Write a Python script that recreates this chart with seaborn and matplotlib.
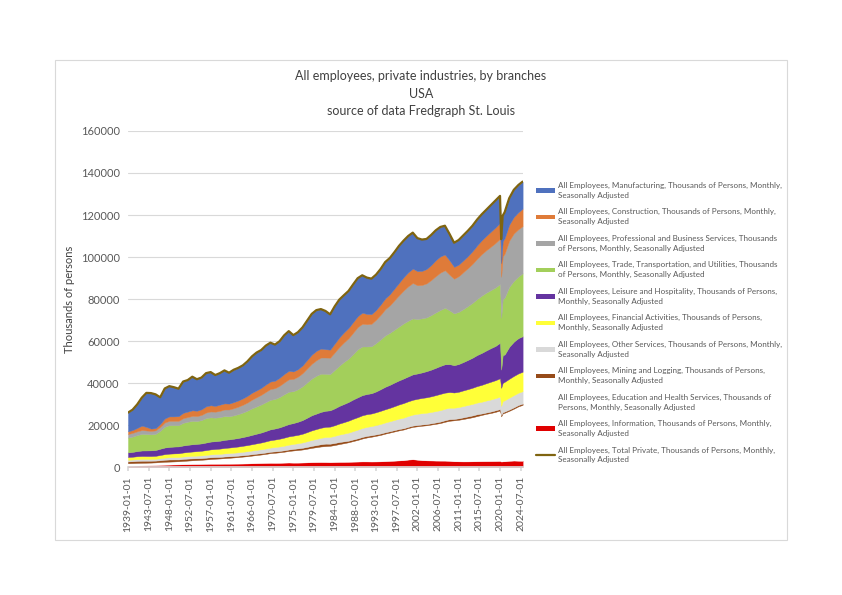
import matplotlib
matplotlib.use("Agg")
import matplotlib.pyplot as plt
from matplotlib.patches import Patch, Rectangle
from matplotlib.lines import Line2D
import pandas as pd
import seaborn as sns

# January of each year, plus two extra points for the 2020 dip and the last month
DATES = ([f"{y}-01-01" for y in range(1939, 2021)] + ["2020-04-01", "2020-08-01"]
         + [f"{y}-01-01" for y in range(2021, 2025)] + ["2024-12-01"])

# thousands of persons
manufacturing = [
    8900, 9700, 11200, 13300, 16200, 16900, 16100, 12700, 14300, 14400,
    13900, 13100, 14900, 15000, 16000, 15000, 15100, 15800, 15800, 14700,
    15000, 15700, 14700, 15400, 15500, 15700, 16400, 17300, 18000, 18000,
    18500, 18500, 17200, 17400, 18400, 18900, 17300, 17600, 18100, 18700,
    19400, 19400, 18800, 18200, 16800, 17700, 18000, 17700, 17600, 17900,
    18100, 17800, 17300, 16900, 16800, 16900, 17300, 17200, 17300, 17600,
    17400, 17300, 17100, 15700, 14900, 14300, 14300, 14200, 14000, 13700,
    12600, 11500, 11700, 11900, 12000, 12100, 12300, 12300, 12400, 12600,
    12800, 12800, 11400, 12200, 12300, 12600, 12900, 12950, 12860]
construction = [
    1300, 1350, 1600, 2100, 1700, 1100, 1050, 1400, 1900, 2100,
    2100, 2200, 2550, 2600, 2650, 2550, 2700, 2950, 2950, 2750,
    2950, 2900, 2800, 2900, 2950, 3050, 3150, 3300, 3250, 3300,
    3500, 3550, 3550, 3800, 4000, 4050, 3550, 3550, 3700, 4050,
    4350, 4450, 4250, 3950, 3850, 4200, 4550, 4750, 4900, 5050,
    5150, 5300, 4900, 4600, 4650, 4900, 5150, 5300, 5600, 5900,
    6300, 6650, 6850, 6750, 6700, 6850, 7150, 7600, 7700, 7500,
    6800, 5650, 5500, 5600, 5750, 6000, 6300, 6600, 6850, 7150,
    7400, 7600, 6500, 7250, 7400, 7600, 7850, 8100, 8300]
prof_business = [
    1700, 1750, 1800, 1800, 1700, 1650, 1650, 1850, 2000, 2050,
    2050, 2050, 2200, 2250, 2350, 2350, 2450, 2650, 2800, 2850,
    3000, 3150, 3250, 3400, 3550, 3700, 3900, 4150, 4400, 4600,
    4900, 5150, 5150, 5350, 5650, 5900, 5850, 6000, 6250, 6650,
    7050, 7400, 7700, 7750, 7800, 8350, 8900, 9300, 9700, 10200,
    10600, 10800, 10600, 10700, 11100, 11700, 12500, 13100, 14000, 14900,
    15700, 16400, 16900, 16100, 15900, 16200, 16700, 17300, 17800, 17900,
    17000, 16500, 17000, 17600, 18100, 18600, 19200, 19800, 20200, 20700,
    21200, 21600, 19500, 20400, 20900, 22000, 22600, 22500, 22500]
trade_transport = [
    7050, 7300, 7620, 7950, 7820, 7620, 7720, 8540, 9920, 10390,
    10220, 10150, 10800, 10990, 11180, 10900, 11120, 11640, 11550, 11210,
    11240, 11330, 10990, 11130, 11380, 11690, 12110, 12640, 12980, 13370,
    13740, 14070, 14060, 14470, 15000, 15410, 15160, 15480, 16090, 16820,
    17450, 18020, 18200, 17630, 17260, 18300, 19150, 20040, 20630, 21600,
    22860, 23180, 22640, 22370, 23070, 23730, 24440, 24760, 25180, 25660,
    26240, 26510, 26640, 25920, 25760, 25600, 25980, 26370, 26670, 26890,
    25620, 24670, 24860, 25210, 25660, 26150, 26670, 27270, 27540, 27630,
    27850, 27940, 24730, 26560, 27130, 28580, 28980, 29360, 29980]
leisure = [
    2200, 2300, 2450, 2600, 2650, 2700, 2750, 3000, 3150, 3200,
    3250, 3250, 3350, 3400, 3450, 3450, 3500, 3600, 3700, 3700,
    3750, 3850, 3900, 3950, 4050, 4150, 4300, 4450, 4600, 4750,
    4950, 5150, 5250, 5400, 5650, 5850, 6000, 6250, 6500, 6850,
    7200, 7350, 7550, 7650, 7750, 8050, 8400, 8650, 8900, 9200,
    9450, 9600, 9600, 9650, 9900, 10300, 10700, 10950, 11250, 11450,
    11700, 11850, 12100, 12050, 12150, 12450, 12700, 13000, 13300, 13500,
    13300, 13000, 13200, 13500, 13900, 14300, 14800, 15200, 15600, 16000,
    16300, 16900, 8700, 13200, 13000, 15200, 16300, 16800, 16900]
financial = [
    1300, 1330, 1380, 1400, 1380, 1370, 1400, 1550, 1650, 1720,
    1780, 1830, 1900, 1980, 2060, 2140, 2210, 2300, 2380, 2440,
    2510, 2590, 2640, 2710, 2770, 2840, 2920, 3010, 3110, 3240,
    3390, 3540, 3600, 3700, 3850, 3950, 3950, 4000, 4150, 4350,
    4550, 4700, 4800, 4850, 4900, 5050, 5250, 5450, 5700, 5850,
    5950, 6050, 6050, 6000, 6100, 6250, 6300, 6400, 6550, 6750,
    6950, 7000, 7050, 7150, 7250, 7350, 7450, 7600, 7750, 7650,
    7450, 7250, 7300, 7450, 7550, 7700, 7850, 8050, 8250, 8450,
    8550, 8750, 8600, 8700, 8800, 9000, 9150, 9200, 9250]
other_services = [
    800, 820, 850, 880, 870, 860, 880, 960, 1030, 1070,
    1100, 1120, 1150, 1180, 1210, 1240, 1270, 1320, 1370, 1400,
    1440, 1490, 1520, 1560, 1600, 1650, 1700, 1750, 1800, 1850,
    1920, 1980, 2050, 2120, 2200, 2300, 2350, 2450, 2550, 2700,
    2850, 2950, 3050, 3150, 3250, 3400, 3550, 3700, 3850, 4000,
    4150, 4250, 4300, 4350, 4450, 4550, 4650, 4750, 4850, 4950,
    5050, 5150, 5250, 5350, 5400, 5400, 5400, 5420, 5450, 5500,
    5450, 5350, 5350, 5400, 5450, 5500, 5550, 5600, 5700, 5750,
    5800, 5900, 4350, 5300, 5350, 5650, 5800, 5850, 5900]
mining = [
    850, 900, 950, 970, 930, 900, 850, 850, 950, 1000,
    950, 850, 950, 950, 900, 850, 800, 840, 850, 800,
    750, 760, 720, 700, 680, 670, 670, 670, 660, 640,
    650, 660, 660, 660, 670, 700, 760, 780, 820, 860,
    930, 980, 1070, 1160, 990, 980, 970, 870, 740, 750,
    740, 750, 750, 710, 680, 670, 660, 640, 650, 650,
    600, 600, 610, 600, 580, 580, 600, 650, 690, 730,
    760, 640, 690, 770, 810, 840, 870, 680, 640, 690,
    740, 700, 620, 590, 590, 620, 640, 640, 630]
education_health = [
    1200, 1200, 1250, 1250, 1250, 1250, 1300, 1350, 1400, 1420,
    1450, 1500, 1600, 1700, 1800, 1900, 2000, 2100, 2250, 2400,
    2500, 2650, 2800, 2950, 3100, 3300, 3450, 3650, 3850, 4050,
    4300, 4600, 4800, 5000, 5200, 5500, 5800, 6000, 6200, 6500,
    6800, 7100, 7400, 7600, 7800, 8100, 8500, 8900, 9300, 9800,
    10300, 10900, 11400, 11800, 12200, 12600, 13100, 13500, 13900, 14300,
    14600, 15000, 15400, 15900, 16400, 16700, 17100, 17500, 17900, 18500,
    19100, 19500, 19800, 20200, 20600, 21000, 21500, 22000, 22500, 22900,
    23400, 24000, 21500, 22800, 23100, 23800, 24700, 25900, 26600]
information = [
    600, 650, 700, 750, 800, 850, 900, 1000, 1100, 1150,
    1200, 1250, 1300, 1350, 1400, 1420, 1450, 1500, 1550, 1550,
    1560, 1580, 1580, 1600, 1620, 1650, 1700, 1780, 1850, 1900,
    1950, 2000, 1980, 2000, 2080, 2140, 2080, 2090, 2140, 2220,
    2320, 2350, 2380, 2360, 2300, 2370, 2430, 2440, 2480, 2550,
    2600, 2670, 2660, 2620, 2650, 2700, 2800, 2900, 3020, 3140,
    3260, 3540, 3700, 3480, 3260, 3170, 3120, 3060, 3040, 3030,
    2920, 2740, 2700, 2670, 2680, 2710, 2760, 2800, 2820, 2830,
    2860, 2910, 2600, 2700, 2730, 2950, 3080, 3000, 2980]
total_private = [
    25900, 27300, 29800, 33000, 35300, 35200, 34600, 33200, 37400, 38500,
    38000, 37300, 40700, 41400, 43000, 41800, 42600, 44700, 45200, 43800,
    44700, 46000, 44900, 46300, 47200, 48400, 50300, 52700, 54500, 55700,
    57800, 59200, 58300, 59900, 62700, 64700, 62800, 64200, 66500, 69700,
    72900, 74700, 75200, 74300, 72700, 76500, 79700, 81800, 83800, 86900,
    89900, 91300, 90200, 89700, 91600, 94300, 97600, 99500, 102300, 105300,
    107800, 110000, 111600, 109000, 108300, 108600, 110500, 112700, 114300, 114900,
    111000, 106800, 108100, 110300, 112500, 114900, 117800, 120300, 122500, 124700,
    126900, 129100, 108500, 119700, 121300, 128000, 132000, 134300, 135900]

LABELS = {
    "manufacturing": "All Employees, Manufacturing, Thousands of Persons, Monthly,\nSeasonally Adjusted",
    "construction": "All Employees, Construction, Thousands of Persons, Monthly,\nSeasonally Adjusted",
    "prof_business": "All Employees, Professional and Business Services, Thousands\nof Persons, Monthly, Seasonally Adjusted",
    "trade_transport": "All Employees, Trade, Transportation, and Utilities, Thousands\nof Persons, Monthly, Seasonally Adjusted",
    "leisure": "All Employees, Leisure and Hospitality, Thousands of Persons,\nMonthly, Seasonally Adjusted",
    "financial": "All Employees, Financial Activities, Thousands of Persons,\nMonthly, Seasonally Adjusted",
    "other_services": "All Employees, Other Services, Thousands of Persons, Monthly,\nSeasonally Adjusted",
    "mining": "All Employees, Mining and Logging, Thousands of Persons,\nMonthly, Seasonally Adjusted",
    "education_health": "All Employees, Education and Health Services, Thousands of\nPersons, Monthly, Seasonally Adjusted",
    "information": "All Employees, Information, Thousands of Persons, Monthly,\nSeasonally Adjusted",
    "total_private": "All Employees, Total Private, Thousands of Persons, Monthly,\nSeasonally Adjusted",
}
COLORS = {
    "manufacturing": "#4F71BE",
    "construction": "#DF7B39",
    "prof_business": "#A5A5A5",
    "trade_transport": "#A3CF5B",
    "leisure": "#6434A0",
    "financial": "#FFFF38",
    "other_services": "#D9D9D9",
    "mining": "#964B19",
    "education_health": "#FFFFFF",
    "information": "#E00000",
    "total_private": "#7F6410",
}

df = pd.DataFrame({
    "date": pd.to_datetime(DATES),
    "manufacturing": manufacturing,
    "construction": construction,
    "prof_business": prof_business,
    "trade_transport": trade_transport,
    "leisure": leisure,
    "financial": financial,
    "other_services": other_services,
    "mining": mining,
    "education_health": education_health,
    "information": information,
    "total_private": total_private,
})

# bottom to top, the way the areas are stacked
stack = ["information", "education_health", "mining", "other_services", "financial",
         "leisure", "trade_transport", "prof_business", "construction", "manufacturing"]

sns.set_theme(style="white")
plt.rcParams["font.family"] = ["Lato", "DejaVu Sans"]

fig = plt.figure(figsize=(8.42, 5.95), dpi=100)
ax = fig.add_axes([128 / 842, 1 - 467 / 595, 395 / 842, 336 / 595])

polys = ax.stackplot(df["date"], [df[c] for c in stack],
                     colors=[COLORS[c] for c in stack], zorder=2)
for poly, c in zip(polys, stack):
    poly.set_edgecolor(COLORS[c])
    poly.set_linewidth(0.3)

sns.lineplot(data=df, x="date", y="total_private", color=COLORS["total_private"],
             linewidth=1.6, ax=ax, legend=False, zorder=3)

# axes styling, Excel-like
ax.set_ylim(0, 160000)
ax.set_yticks(range(0, 160001, 20000))
ax.set_xlim(pd.Timestamp("1939-01-01"), pd.Timestamp("2025-01-01"))
ticks = pd.date_range("1939-01-01", "2024-07-01", freq="54MS")
ax.set_xticks(ticks)
ax.set_xticklabels([t.strftime("%Y-%m-%d") for t in ticks], rotation=90)
ax.grid(axis="y", color="#D9D9D9", linewidth=0.8, zorder=0)
ax.set_axisbelow(True)
for side in ["top", "right", "left"]:
    ax.spines[side].set_visible(False)
ax.spines["bottom"].set_color("#D9D9D9")
ax.tick_params(axis="y", length=0, labelsize=8, labelcolor="#595959", pad=6)
ax.tick_params(axis="x", length=3, color="#D9D9D9", labelsize=7.5,
               labelcolor="#595959", direction="out", bottom=True)
ax.set_xlabel("")
ax.set_ylabel("Thousands of persons", fontsize=8, color="#404040")
ax.yaxis.set_label_coords(-0.135, 0.5)

# titles
fig.text(0.5, 1 - 76 / 595, "All employees, private industries, by branches",
         ha="center", va="center", fontsize=9, color="#404040")
fig.text(0.5, 1 - 94 / 595, "USA", ha="center", va="center", fontsize=9, color="#404040")
fig.text(0.5, 1 - 111 / 595, "source of data Fredgraph St. Louis",
         ha="center", va="center", fontsize=9, color="#404040")

# legend: same order as Excel lists it (top of stack first), total line last
handles = [Patch(facecolor=COLORS[c], edgecolor="none") for c in reversed(stack)]
handles.append(Line2D([0], [0], color=COLORS["total_private"], linewidth=1.6))
labels = [LABELS[c] for c in reversed(stack)] + [LABELS["total_private"]]
leg = fig.legend(handles, labels, loc="upper left", bbox_to_anchor=(536 / 842, 1 - 182 / 595),
                 frameon=False, fontsize=5.8, handlelength=2.4, handleheight=0.5,
                 handletextpad=0.3, labelspacing=1.2, borderaxespad=0, borderpad=0,
                 labelcolor="#595959")
for t in leg.get_texts():
    t.set_linespacing(1.45)

# chart area border
fig.add_artist(Rectangle((55 / 842, 1 - 540 / 595), 732 / 842, 480 / 595,
                         transform=fig.transFigure, fill=False,
                         edgecolor="#D9D9D9", linewidth=0.8))

fig.savefig("out.png", dpi=100)
